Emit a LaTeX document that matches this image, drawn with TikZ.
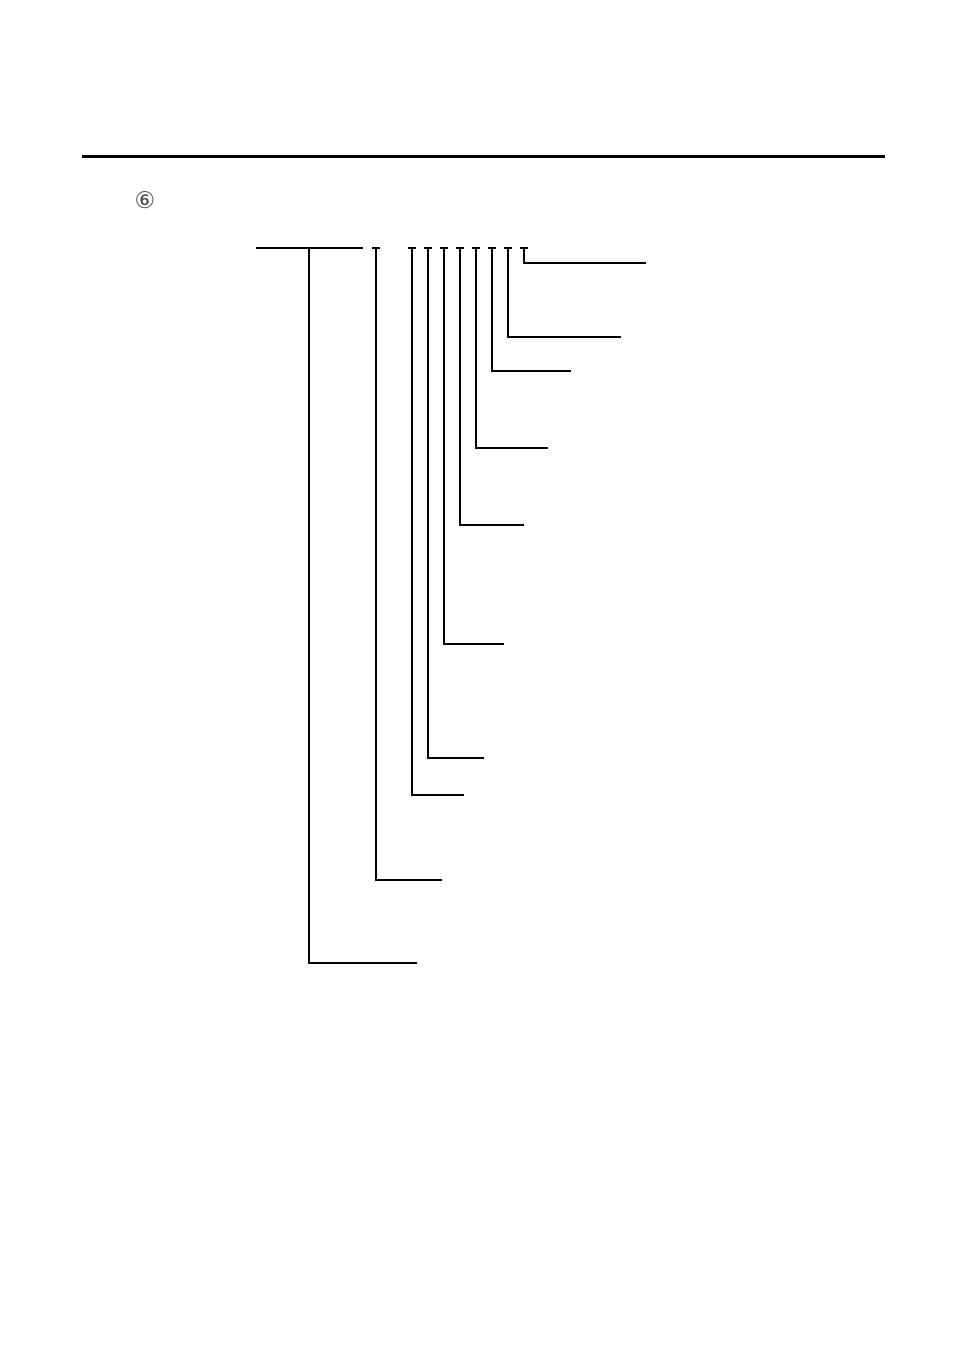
\documentclass[tikz,border=0pt]{standalone}
\usepackage{fontspec}
\newfontfamily\symfont{DejaVu Sans}

\begin{document}
\begin{tikzpicture}[x=1pt,y=-1pt,
  thin leg/.style={line width=1.1pt, line cap=rect},
  thick leg/.style={line width=2pt, line cap=rect},
  rule/.style={line width=3pt}]
  \useasboundingbox (0,0) rectangle (954,1348);
  \draw[rule] (82,157) -- (885,157);
  \node[font=\symfont\fontsize{23}{23}\selectfont, text=black!70] (num) at (145,200) {⑥};
  % root line and its leg
  \coordinate (root-l) at (257,248);
  \coordinate (root-r) at (362,248);
  \coordinate (root-t) at (309,248);
  \coordinate (root-e) at (416,963);
  \draw[thin leg] (root-l) -- (root-r);
  \draw[thin leg] (root-t) -- (root-t |- root-e);
  \draw[thick leg] (root-t |- root-e) -- (root-e);
  % legs hanging from the code positions
  \foreach \n/\x/\y/\e/\v/\h in {1/376/880/441/thick/thin, 2/412/795/463/thin/thin,
      3/428/758/483/thin/thick, 4/444/644/503/thin/thick, 5/460/525/523/thin/thin,
      6/476/448/547/thin/thick, 7/492/371/570/thin/thick, 8/508/337/620/thin/thick,
      9/524/263/645/thin/thick}
  {
    \coordinate (t\n) at (\x,248);
    \coordinate (e\n) at (\e,\y);
    \draw[thin leg] ([xshift=-3pt]t\n) -- ([xshift=3pt]t\n);
    \draw[\v\space leg] (t\n) -- (t\n |- e\n);
    \draw[\h\space leg] (t\n |- e\n) -- (e\n);
  }
\end{tikzpicture}
\end{document}
